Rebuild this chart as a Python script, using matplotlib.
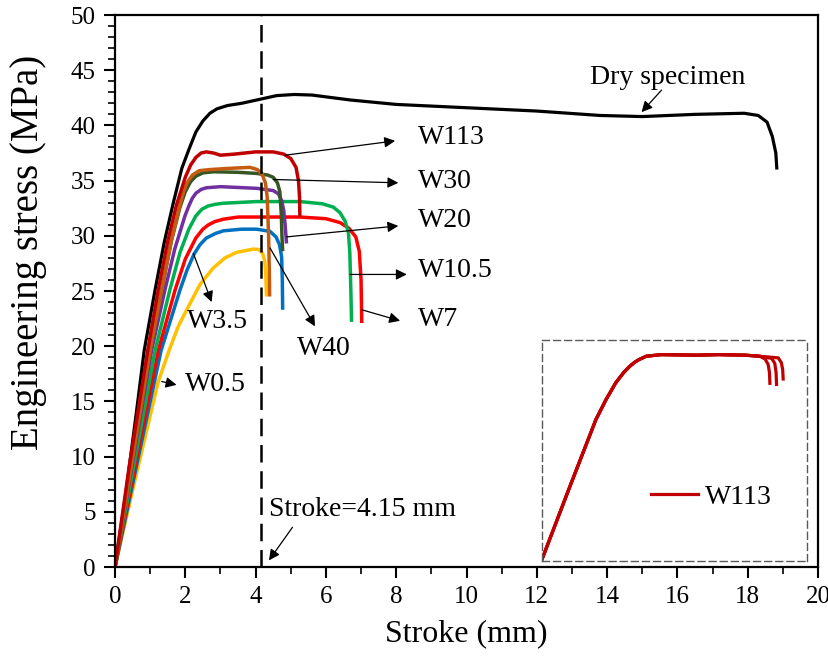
import matplotlib
matplotlib.use('Agg')
import matplotlib.pyplot as plt
from matplotlib.ticker import MultipleLocator

plt.rcParams['font.family'] = ['Liberation Serif', 'DejaVu Serif']

# stroke (mm) / engineering stress (MPa) for each specimen
dry_x = [0, 0.3, 0.6, 0.83, 1.14, 1.4, 1.66, 1.9, 2.1, 2.3, 2.5, 2.7, 2.9, 3.2, 3.6, 4.03, 4.6,
         5.1, 5.6, 6.7, 8.0, 10.0, 12.0, 13.8, 15.0, 16.5, 17.9, 18.3, 18.55, 18.7, 18.8, 18.83]
dry_y = [0, 6.5, 13.8, 19.6, 25.1, 29.4, 33.0, 36.1, 37.8, 39.4, 40.4, 41.1, 41.5, 41.8, 42.0, 42.3, 42.7,
         42.8, 42.75, 42.3, 41.9, 41.6, 41.3, 40.9, 40.8, 41.0, 41.1, 40.9, 40.3, 39.0, 37.5, 36.0]

w05_x = [0, 0.6, 1.23, 1.56, 1.8, 2.09, 2.42, 2.8, 3.13, 3.46, 3.94, 4.1, 4.2, 4.26, 4.29, 4.31]
w05_y = [0, 8.3, 16.8, 19.8, 21.8, 23.6, 25.6, 27.1, 28.0, 28.5, 28.8, 28.75, 28.4, 27.7, 26.5, 24.5]

w35_x = [0, 1.31, 1.85, 2.05, 2.25, 2.42, 2.6, 2.85, 3.08, 3.6, 4.03, 4.41, 4.58, 4.68, 4.74, 4.76, 4.77]
w35_y = [0, 19.6, 25.1, 26.9, 28.35, 29.2, 29.8, 30.2, 30.45, 30.6, 30.6, 30.4, 29.9, 29.2, 28.1, 26.0, 23.3]

w7_x = [0, 1.23, 1.71, 2.0, 2.3, 2.5, 2.66, 2.85, 3.08, 3.5, 4.03, 5.26, 6.0, 6.4, 6.65, 6.85, 6.95, 7.0, 7.02]
w7_y = [0, 19.6, 25.1, 27.9, 29.8, 30.6, 31.0, 31.3, 31.5, 31.7, 31.7, 31.7, 31.55, 31.2, 30.7, 29.9,
        28.6, 26.0, 22.1]

w105_x = [0, 1.14, 1.56, 1.85, 2.1, 2.3, 2.47, 2.65, 2.85, 3.08, 4.03, 5.26, 5.9, 6.21, 6.4, 6.55,
          6.64, 6.68, 6.71, 6.73]
w105_y = [0, 19.6, 25.1, 28.5, 30.6, 31.8, 32.4, 32.7, 32.85, 32.95, 33.1, 33.1, 32.9, 32.6, 32.1, 31.3,
          30.3, 28.5, 25.0, 22.2]

w20_x = [0, 1.04, 1.42, 1.7, 1.99, 2.1, 2.2, 2.3, 2.45, 2.6, 3.0, 4.03, 4.5, 4.65, 4.74, 4.8, 4.84, 4.88]
w20_y = [0, 19.6, 25.1, 28.8, 31.8, 32.7, 33.4, 33.85, 34.2, 34.35, 34.45, 34.3, 34.1, 33.8, 33.2,
         32.3, 31.0, 29.3]

w30_x = [0, 1.0, 1.33, 1.6, 1.85, 2.0, 2.15, 2.3, 2.5, 2.8, 3.5, 4.03, 4.35, 4.5, 4.62, 4.69, 4.73,
         4.75, 4.77]
w30_y = [0, 19.6, 25.1, 29.5, 32.6, 34.0, 34.9, 35.4, 35.7, 35.8, 35.75, 35.65, 35.5, 35.3, 34.8, 34.0,
         32.0, 30.0, 28.6]

w40_x = [0, 1.0, 1.33, 1.6, 1.85, 1.95, 2.05, 2.2, 2.4, 2.7, 3.2, 3.84, 4.05, 4.18, 4.28, 4.33, 4.37,
         4.39, 4.4]
w40_y = [0, 19.6, 25.1, 29.5, 32.8, 34.0, 34.8, 35.5, 35.9, 36.0, 36.1, 36.2, 36.0, 35.6, 34.8, 33.5,
         30.0, 27.0, 24.5]

w113_x = [0, 0.4, 0.93, 1.23, 1.5, 1.75, 2.0, 2.15, 2.3, 2.45, 2.6, 2.8, 3.0, 3.4, 4.0, 4.5, 4.8, 5.0,
          5.15, 5.22, 5.25, 5.26]
w113_y = [0, 9.0, 19.6, 25.1, 29.5, 32.8, 35.3, 36.4, 37.1, 37.5, 37.6, 37.5, 37.3, 37.4, 37.6, 37.6,
          37.4, 37.0, 36.2, 35.0, 33.5, 31.7]

# W113 replicate tests shown in the inset
rep_x = [0, 0.61, 1.22, 1.45, 1.67, 1.85, 1.98, 2.1, 2.2, 2.36, 2.7, 3.5, 4.0, 4.6, 4.93]
rep_y = [0, 13.0, 25.8, 29.5, 32.6, 34.5, 35.6, 36.4, 36.9, 37.5, 37.8, 37.7, 37.8, 37.7, 37.5]
rep1_end_x = [5.05, 5.12, 5.15, 5.16]
rep1_end_y = [37.0, 36.0, 34.5, 32.5]
rep2_end_x = [5.2, 5.27, 5.3, 5.31]
rep2_end_y = [37.1, 36.2, 34.5, 32.3]
rep3_end_x = [5.35, 5.42, 5.45, 5.46]
rep3_end_y = [37.2, 36.3, 35.0, 33.3]

stroke_mark = 4.15

fig = plt.figure(figsize=(8.29, 6.61), dpi=100)
ax = fig.add_axes([115 / 829, 1 - 567 / 661, 703 / 829, 552 / 661])

series = [
    (dry_x, dry_y, 'black', 2.3),
    (w05_x, w05_y, '#FFC000', 2.5),
    (w35_x, w35_y, '#0070C0', 2.5),
    (w7_x, w7_y, '#FF0000', 2.5),
    (w105_x, w105_y, '#00B050', 2.5),
    (w20_x, w20_y, '#7030A0', 2.5),
    (w30_x, w30_y, '#375623', 2.5),
    (w40_x, w40_y, '#C55A11', 2.5),
    (w113_x, w113_y, '#C00000', 2.5),
]
for xs, ys, c, lw in series:
    ax.plot(xs, ys, color=c, lw=lw, solid_joinstyle='round', solid_capstyle='butt')

ax.axvline(stroke_mark, color='black', lw=1.8, ls=(0, (7, 3.5)))

ax.set_xlim(0, 20)
ax.set_ylim(0, 50)
ax.xaxis.set_major_locator(MultipleLocator(2))
ax.xaxis.set_minor_locator(MultipleLocator(1))
ax.yaxis.set_major_locator(MultipleLocator(5))
ax.yaxis.set_minor_locator(MultipleLocator(1))
ax.tick_params(which='major', direction='out', length=8, width=1.5, labelsize=18, pad=6)
ax.tick_params(which='minor', direction='out', length=5, width=1.2)
for s in ax.spines.values():
    s.set_linewidth(1.6)

ax.set_xlabel('Stroke (mm)', fontsize=23, labelpad=8)
ax.set_ylabel('Engineering stress (MPa)', fontsize=28)
ax.yaxis.set_label_coords(-0.097, 0.57)

arrow = dict(arrowstyle='-|>', color='black', lw=0.9, mutation_scale=16, shrinkA=0, shrinkB=0)
fs = 20
ax.annotate('', xy=(14.98, 41.2), xytext=(15.55, 43.2), arrowprops=arrow)
ax.text(15.73, 44.3, 'Dry specimen', fontsize=fs, ha='center', va='center')

ax.annotate('', xy=(7.97, 38.6), xytext=(4.84, 37.3), arrowprops=arrow)
ax.text(8.62, 38.9, 'W113', fontsize=fs, va='center')
ax.annotate('', xy=(8.06, 34.8), xytext=(4.5, 35.1), arrowprops=arrow)
ax.text(8.62, 34.9, 'W30', fontsize=fs, va='center')
ax.annotate('', xy=(8.06, 30.9), xytext=(4.88, 29.9), arrowprops=arrow)
ax.text(8.62, 31.4, 'W20', fontsize=fs, va='center')
ax.annotate('', xy=(8.3, 26.5), xytext=(6.69, 26.5), arrowprops=arrow)
ax.text(8.62, 26.9, 'W10.5', fontsize=fs, va='center')
ax.annotate('', xy=(8.11, 22.3), xytext=(7.02, 23.3), arrowprops=arrow)
ax.text(8.62, 22.4, 'W7', fontsize=fs, va='center')
ax.annotate('', xy=(5.69, 21.8), xytext=(4.41, 28.9), arrowprops=arrow)
ax.text(5.18, 19.8, 'W40', fontsize=fs, va='center')
ax.annotate('', xy=(2.75, 24.0), xytext=(2.23, 28.4), arrowprops=arrow)
ax.text(2.05, 22.2, 'W3.5', fontsize=fs, va='center')
ax.annotate('', xy=(1.75, 16.5), xytext=(1.33, 16.8), arrowprops=arrow)
ax.text(1.99, 16.5, 'W0.5', fontsize=fs, va='center')

ax.annotate('', xy=(4.38, 0.6), xytext=(5.05, 3.6), arrowprops=arrow)
ax.text(4.39, 5.2, 'Stroke=4.15 mm', fontsize=fs, va='center')

# inset with the W113 replicates
ax_in = fig.add_axes([542 / 829, 1 - 561 / 661, 265 / 829, 221 / 661])
ax_in.set_xlim(0, 6.0)
ax_in.set_ylim(-0.3, 40.5)
ax_in.set_xticks([])
ax_in.set_yticks([])
ax_in.patch.set_alpha(0)
for s in ax_in.spines.values():
    s.set_linestyle((0, (5, 3)))
    s.set_color('#595959')
    s.set_linewidth(1.0)
for ex, ey, lab in [(rep1_end_x, rep1_end_y, 'W113'), (rep2_end_x, rep2_end_y, None),
                    (rep3_end_x, rep3_end_y, None)]:
    ax_in.plot(rep_x + ex, rep_y + ey, color='#C00000', lw=2.3, label=lab,
               solid_joinstyle='round')
ax_in.legend(loc='center left', bbox_to_anchor=(0.41, 0.29), frameon=False, fontsize=20,
             handlelength=1.7, handletextpad=0.25, borderpad=0, borderaxespad=0)

fig.savefig('out.png', dpi=100)
